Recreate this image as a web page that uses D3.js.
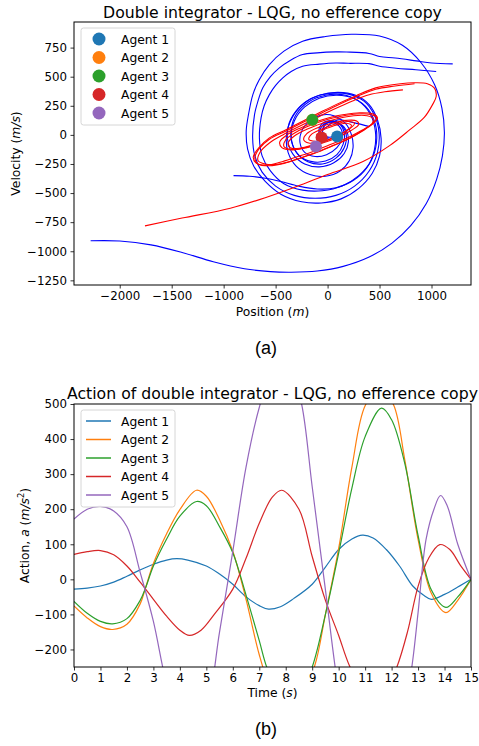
<!DOCTYPE html>
<html>
<head>
<meta charset="utf-8">
<script src="https://cdn.jsdelivr.net/npm/d3@7"></script>
<style>
  html, body { margin: 0; padding: 0; background: #fff; }
  svg text { font-family: "DejaVu Sans", sans-serif; fill: #000; }
</style>
</head>
<body>
<svg id="chart" width="479" height="746"></svg>
<script>
// ---- data ----
var agents = ['Agent 1', 'Agent 2', 'Agent 3', 'Agent 4', 'Agent 5'];
var agentColors = ['#1f77b4', '#ff7f0e', '#2ca02c', '#d62728', '#9467bd'];

// phase plane: final agent positions [position, velocity]
var agentDots = [[92, -14], [-147, 127], [-147, 129], [-58, -23], [-112, -100]];

// phase plane trajectories (blue)
var blueA = [[-2280, -910], [-2000, -912], [-1700, -945], [-1400, -1010], [-1100, -1090], [-800, -1150], [-550, -1175], [-350, -1180], [-100, -1170], [150, -1130], [400, -1050], [620, -930], [800, -780], [950, -590], [1050, -380], [1105, -180], [1124, 20], [1100, 230], [1030, 430], [900, 620], [720, 770], [500, 850], [230, 865], [-20, 845], [-240, 805], [-420, 720], [-560, 604], [-660, 470], [-719, 346], [-760, 180], [-783, 34], [-770, -120], [-710, -270], [-600, -400], [-450, -510], [-250, -575], [-60, -585], [130, -550], [300, -460], [430, -330], [500, -180], [515, -30], [480, 130], [400, 260], [270, 340], [100, 365], [-80, 340], [-230, 270], [-340, 150], [-395, 0], [-380, -150], [-300, -270], [-170, -340], [-20, -355], [120, -310], [210, -220], [245, -110], [230, 0], [170, 100], [60, 165], [-60, 170], [-170, 120], [-250, 30], [-265, -70], [-220, -150], [-120, -186], [-10, -170], [90, -110], [140, -30], [130, 50], [70, 100], [-20, 100], [-70, 50], [-60, -10], [10, -30]];
var blueB = [[1204, 610], [1000, 618], [853, 636], [650, 660], [501, 673], [399, 700], [182, 712], [80, 713], [-100, 705], [-240, 690], [-360, 640], [-464, 576], [-550, 500], [-623, 404], [-670, 290], [-703, 174], [-721, -26], [-700, -180], [-630, -320], [-500, -440], [-320, -520], [-120, -545], [80, -520], [260, -440], [400, -310], [480, -150], [495, 20], [450, 170], [350, 290], [200, 350], [30, 358], [-140, 320], [-280, 230], [-370, 100], [-385, -40], [-330, -170], [-220, -250], [-80, -275], [60, -240], [160, -160], [200, -60], [180, 40], [110, 100], [20, 110], [-40, 60], [-40, 0], [20, -20], [100, 10]];
var blueC = [[1045, 544], [850, 560], [661, 573], [500, 590], [399, 612], [200, 615], [80, 618], [-80, 608], [-240, 590], [-350, 545], [-431, 490], [-500, 425], [-560, 346], [-610, 250], [-640, 146], [-656, -26], [-630, -180], [-550, -310], [-420, -420], [-240, -475], [-50, -480], [140, -440], [300, -350], [420, -220], [470, -70], [460, 90], [390, 220], [260, 310], [90, 340], [-80, 315], [-220, 240], [-320, 120], [-350, -20], [-300, -150], [-190, -230], [-50, -250], [80, -200], [160, -110], [180, 0], [140, 80], [60, 120], [-30, 110], [-80, 60], [-80, 0]];
var blueD = [[-905, -350], [-750, -355], [-600, -372], [-450, -400], [-280, -440], [-100, -465], [80, -455], [250, -390], [380, -280], [450, -130], [460, 30], [410, 180], [300, 290], [150, 345], [-20, 340], [-180, 285], [-300, 180], [-350, 50], [-340, -80], [-270, -180], [-150, -230], [-20, -225], [90, -170], [150, -80], [160, 20], [120, 90], [50, 120], [-20, 95], [-50, 40], [-20, 60], [99, 129], [250, 105], [405, 71]];

// phase plane trajectories (red)
var redA = [[-1757, -782], [-1400, -715], [-936, -630], [-600, -540], [-297, -444], [0, -340], [341, -229], [600, -90], [789, 43], [930, 150], [1010, 260], [1045, 330], [1030, 400], [960, 440], [837, 448], [700, 440], [463, 404], [270, 335], [80, 260], [-80, 190], [-240, 118], [-400, 45], [-560, -26], [-660, -110], [-715, -190], [-690, -240], [-600, -260], [-457, -235], [-300, -190], [-138, -143], [20, -85], [182, -29], [330, 40], [440, 100], [480, 145], [440, 180], [310, 190], [160, 175], [22, 150], [-120, 110], [-265, 58], [-390, 0], [-460, -60], [-440, -110], [-340, -130], [-200, -110], [-50, -70], [100, -20], [230, 40], [300, 90], [280, 120], [180, 125], [40, 100], [-100, 60], [-200, 10], [-230, -40], [-180, -70], [-80, -60]];
var redB = [[837, 440], [650, 420], [463, 392], [270, 325], [80, 248], [-80, 178], [-240, 106], [-400, 33], [-560, -38], [-660, -120], [-700, -200], [-670, -250], [-560, -265], [-420, -245], [-260, -200], [-100, -150], [60, -90], [220, -25], [360, 50], [450, 110], [470, 150], [410, 175], [280, 180], [130, 160], [-20, 128], [-170, 80], [-300, 25], [-400, -40], [-420, -100], [-350, -125], [-220, -110], [-60, -65], [90, -10], [210, 50], [260, 100], [200, 115], [60, 90], [-70, 45], [-160, 0], [-180, -40], [-120, -55]];
var redC = [[725, 387], [550, 370], [400, 345], [240, 292], [60, 220], [-100, 150], [-260, 78], [-420, 5], [-560, -70], [-650, -150], [-670, -220], [-600, -250], [-460, -250], [-300, -210], [-140, -160], [30, -100], [200, -35], [340, 35], [430, 100], [440, 140], [380, 165], [250, 165], [100, 140], [-50, 100], [-200, 48], [-320, -10], [-380, -70], [-360, -110], [-270, -115], [-120, -80], [40, -30], [170, 30], [230, 80], [180, 100], [50, 75], [-60, 35], [-110, -5]];

var blueTracks = [blueA, blueB, blueC, blueD];
var redTracks = [redA, redB, redC];

// action over time: [t, a]
var action1 = [[0, -28], [0.5, -25], [1, -19], [1.5, -8], [2, 9], [2.5, 27], [3, 43], [3.5, 55], [3.88, 59], [4.3, 55], [5, 38], [5.5, 15], [6, -14], [6.5, -50], [7, -75], [7.35, -85], [7.8, -78], [8.3, -55], [9, -14], [9.5, 35], [10, 85], [10.5, 115], [10.9, 126], [11.3, 118], [11.8, 85], [12.3, 38], [12.8, -19], [13.2, -45], [13.5, -57], [14, -43], [14.5, -22], [15, 0]];
var action2 = [[0, -76], [0.5, -110], [1, -135], [1.46, -143], [2, -128], [2.5, -70], [2.7, -25], [3, 45], [3.5, 130], [4, 199], [4.63, 254], [5, 237], [5.5, 170], [6, 80], [6.5, -57], [7, -215], [7.5, -330], [8.05, -400], [8.6, -330], [9.1, -245], [9.5, -100], [10, 88], [10.5, 320], [11, 495], [11.55, 545], [12.06, 500], [12.5, 340], [13, 114], [13.5, -40], [14.05, -95], [14.5, -60], [15, 0]];
var action3 = [[0, -63], [0.5, -97], [1, -120], [1.46, -127], [2, -112], [2.5, -60], [2.7, -25], [3, 38], [3.5, 115], [4, 180], [4.63, 222], [5, 210], [5.5, 150], [6, 76], [6.5, -45], [7, -175], [7.28, -250], [8, -380], [8.5, -330], [9, -250], [9.5, -100], [10, 75], [10.5, 260], [11, 407], [11.62, 488], [12, 455], [12.5, 330], [13, 125], [13.5, -30], [14.05, -80], [14.5, -50], [15, 0]];
var action4 = [[0, 71], [0.5, 79], [1, 82], [1.5, 70], [2, 38], [2.5, -8], [3, -57], [3.5, -105], [4, -145], [4.36, -160], [4.8, -145], [5.3, -100], [6, -28], [6.5, 60], [7, 160], [7.5, 235], [7.85, 254], [8.5, 200], [9, 65], [9.5, -60], [10, -160], [10.4, -245], [11, -330], [11.3, -345], [11.7, -330], [12.2, -250], [12.6, -150], [13, -20], [13.4, 60], [13.82, 99], [14.2, 85], [14.6, 40], [15, 0]];
var action5 = [[0, 172], [0.5, 200], [1, 208], [1.5, 195], [2, 150], [2.5, 20], [3, -120], [3.5, -300], [4, -420], [4.36, -450], [5, -370], [5.5, -150], [6, 80], [6.5, 320], [7, 490], [7.5, 600], [7.85, 630], [8.2, 600], [8.6, 500], [9, 264], [9.5, -30], [10, -320], [10.5, -520], [11.3, -650], [12, -560], [12.5, -380], [12.8, -230], [13, -95], [13.3, 113], [13.6, 200], [13.85, 239], [14.1, 210], [14.5, 100], [15, 0]];
var actions = [action1, action2, action3, action4, action5];

var phaseXTicks = [-2000, -1500, -1000, -500, 0, 500, 1000];
var phaseYTicks = [-1250, -1000, -750, -500, -250, 0, 250, 500, 750];
var timeTicks = d3.range(0, 16);
var actionTicks = [-200, -100, 0, 100, 200, 300, 400, 500];

// ---- drawing ----
var svg = d3.select('#chart');
var fmt = d3.format('d');

function drawAxes(g, x, y, xTicks, yTicks) {
  var xa = g.append('g')
    .attr('transform', 'translate(0,' + y.range()[0] + ')')
    .call(d3.axisBottom(x).tickValues(xTicks).tickFormat(fmt).tickSize(3.5).tickPadding(3.5));
  var ya = g.append('g')
    .attr('transform', 'translate(' + x.range()[0] + ',0)')
    .call(d3.axisLeft(y).tickValues(yTicks).tickFormat(fmt).tickSize(3.5).tickPadding(3.5));
  [xa, ya].forEach(function (a) {
    a.select('.domain').remove();
    a.selectAll('line').attr('stroke', '#000').attr('stroke-width', 0.8);
    a.selectAll('text').style('font-family', '"DejaVu Sans", sans-serif').style('font-size', '11.8px').attr('fill', '#000');
  });
  g.append('rect')
    .attr('x', x.range()[0]).attr('y', y.range()[1])
    .attr('width', x.range()[1] - x.range()[0])
    .attr('height', y.range()[0] - y.range()[1])
    .attr('fill', 'none').attr('stroke', '#000').attr('stroke-width', 1);
}

function legendBox(g, y0) {
  g.append('rect')
    .attr('x', 81).attr('y', y0).attr('width', 94).attr('height', 97).attr('rx', 2.5)
    .attr('fill', '#fff').attr('fill-opacity', 0.8)
    .attr('stroke', '#cccccc').attr('stroke-width', 0.8);
}

// ===== (a) phase plane =====
var xPos = d3.scaleLinear().domain([-2440, 1380]).range([74, 471]);
var yVel = d3.scaleLinear().domain([-1290, 970]).range([285, 22]);
var gTop = svg.append('g');

var track = d3.line()
  .x(function (d) { return xPos(d[0]); })
  .y(function (d) { return yVel(d[1]); })
  .curve(d3.curveCatmullRom.alpha(0.5));

gTop.selectAll('path.blue').data(blueTracks).enter().append('path')
  .attr('class', 'blue').attr('d', track)
  .attr('fill', 'none').attr('stroke', '#0000ff').attr('stroke-width', 1.1);
gTop.selectAll('path.red').data(redTracks).enter().append('path')
  .attr('class', 'red').attr('d', track)
  .attr('fill', 'none').attr('stroke', '#ff0000').attr('stroke-width', 1.1);

gTop.selectAll('circle.dot').data(agentDots).enter().append('circle')
  .attr('class', 'dot')
  .attr('cx', function (d) { return xPos(d[0]); })
  .attr('cy', function (d) { return yVel(d[1]); })
  .attr('r', 6)
  .attr('fill', function (d, i) { return agentColors[i]; });

drawAxes(gTop, xPos, yVel, phaseXTicks, phaseYTicks);

gTop.append('text').attr('x', 272.5).attr('y', 18).attr('text-anchor', 'middle')
  .style('font-size', '15.7px').text('Double integrator - LQG, no efference copy');

var xl = gTop.append('text').attr('x', 272.5).attr('y', 316).attr('text-anchor', 'middle').style('font-size', '12.3px');
xl.append('tspan').text('Position (');
xl.append('tspan').style('font-style', 'italic').text('m');
xl.append('tspan').text(')');

var yl = gTop.append('text').attr('transform', 'translate(20,153.5) rotate(-90)').attr('text-anchor', 'middle').style('font-size', '12.3px');
yl.append('tspan').text('Velocity (');
yl.append('tspan').style('font-style', 'italic').text('m/s');
yl.append('tspan').text(')');

legendBox(gTop, 28);
agents.forEach(function (name, i) {
  var cy = 39 + i * 18.5;
  gTop.append('circle').attr('cx', 99).attr('cy', cy).attr('r', 6.5).attr('fill', agentColors[i]);
  gTop.append('text').attr('x', 121).attr('y', cy + 4.5).style('font-size', '12.3px').text(name);
});

svg.append('text').attr('x', 266).attr('y', 354).attr('text-anchor', 'middle')
  .style('font-family', '"Liberation Sans", Arial, sans-serif').style('font-size', '18px').text('(a)');

// ===== (b) action over time =====
var xTime = d3.scaleLinear().domain([0, 15]).range([74, 471]);
var yAct = d3.scaleLinear().domain([-250, 500]).range([667, 404]);
var gBot = svg.append('g');

gBot.append('clipPath').attr('id', 'clipB').append('rect')
  .attr('x', 74).attr('y', 404).attr('width', 397).attr('height', 263);

var actLine = d3.line()
  .x(function (d) { return xTime(d[0]); })
  .y(function (d) { return yAct(d[1]); })
  .curve(d3.curveCatmullRom.alpha(0.5));

gBot.append('g').attr('clip-path', 'url(#clipB)')
  .selectAll('path').data(actions).enter().append('path')
  .attr('d', actLine)
  .attr('fill', 'none')
  .attr('stroke', function (d, i) { return agentColors[i]; })
  .attr('stroke-width', 1.2);

drawAxes(gBot, xTime, yAct, timeTicks, actionTicks);

gBot.append('text').attr('x', 272.5).attr('y', 399).attr('text-anchor', 'middle')
  .style('font-size', '15.7px').text('Action of double integrator - LQG, no efference copy');

var tl = gBot.append('text').attr('x', 272.5).attr('y', 697).attr('text-anchor', 'middle').style('font-size', '12.3px');
tl.append('tspan').text('Time (');
tl.append('tspan').style('font-style', 'italic').text('s');
tl.append('tspan').text(')');

var al = gBot.append('text').attr('transform', 'translate(29,535.5) rotate(-90)').attr('text-anchor', 'middle').style('font-size', '12.3px');
al.append('tspan').text('Action, ');
al.append('tspan').style('font-style', 'italic').text('a');
al.append('tspan').text(' (');
al.append('tspan').style('font-style', 'italic').text('m/s');
al.append('tspan').attr('dy', -5).style('font-size', '8.5px').text('2');
al.append('tspan').attr('dy', 5).text(')');

legendBox(gBot, 410);
agents.forEach(function (name, i) {
  var cy = 421 + i * 18.5;
  gBot.append('line').attr('x1', 86).attr('x2', 111).attr('y1', cy).attr('y2', cy)
    .attr('stroke', agentColors[i]).attr('stroke-width', 1.5);
  gBot.append('text').attr('x', 121).attr('y', cy + 4.5).style('font-size', '12.3px').text(name);
});

svg.append('text').attr('x', 266).attr('y', 735).attr('text-anchor', 'middle')
  .style('font-family', '"Liberation Sans", Arial, sans-serif').style('font-size', '18px').text('(b)');
</script>
</body>
</html>
